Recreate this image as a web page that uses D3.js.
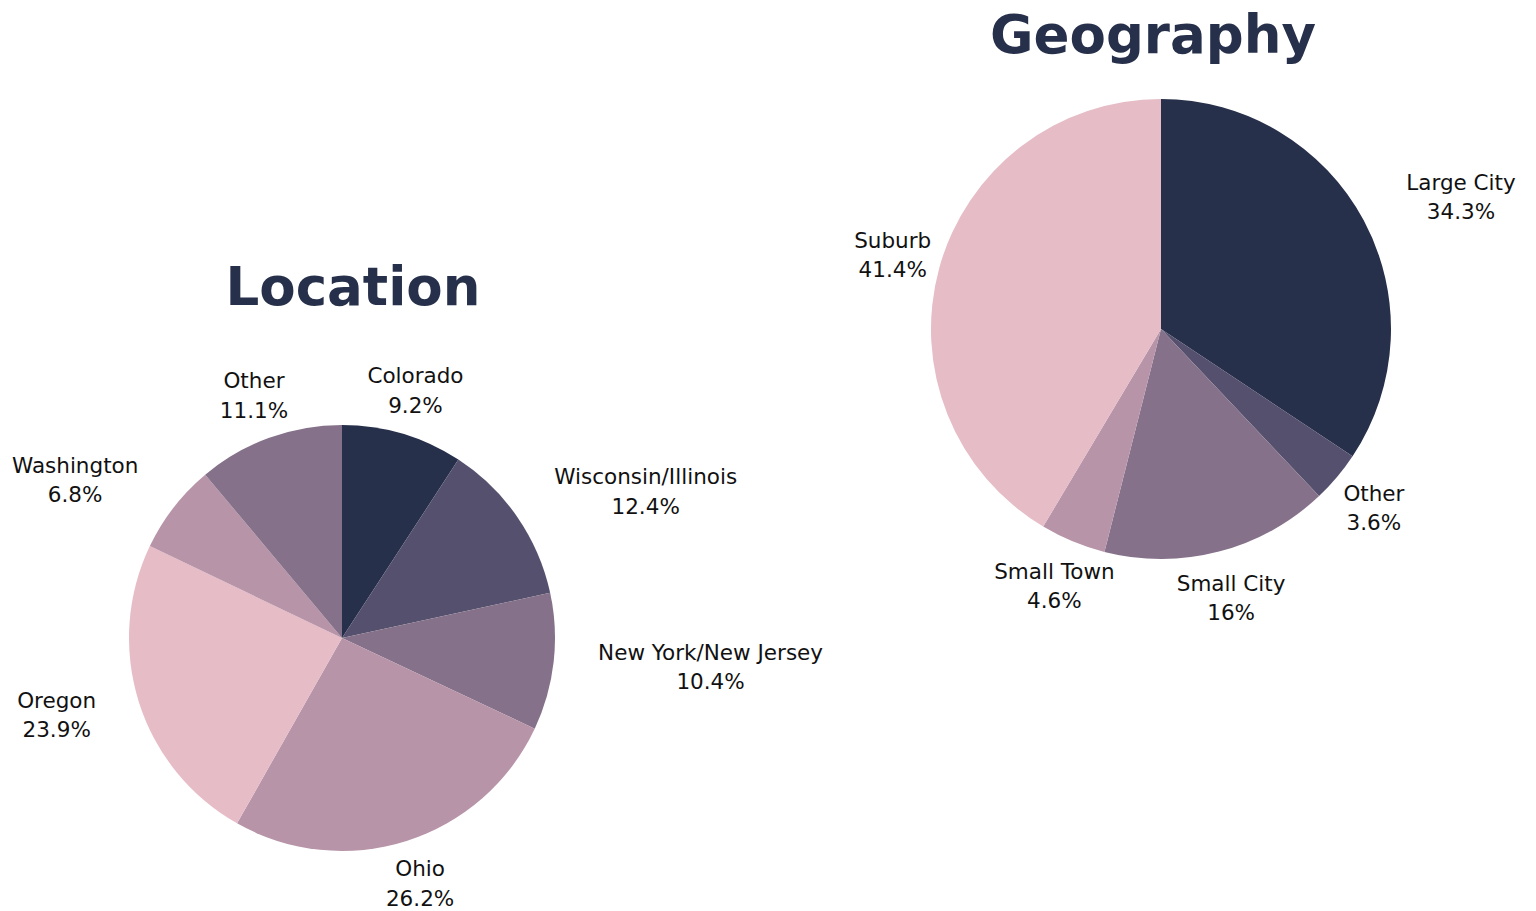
<!DOCTYPE html>
<html lang="en">
<head>
<meta charset="UTF-8">
<title>Location and Geography</title>
<script src="https://d3js.org/d3.v7.min.js"></script>
<style>
  body { margin: 0; background: #fff; }
  .title { font-family: "DejaVu Sans", sans-serif; font-weight: 700; fill: #27304a; }
  .label { font-family: "DejaVu Sans", sans-serif; font-size: 21.5px; fill: #111; }
</style>
</head>
<body>
<svg id="chart" width="1536" height="911"></svg>
<script>
// Location
const locationNames = ["Colorado", "Wisconsin/Illinois", "New York/New Jersey", "Ohio", "Oregon", "Washington", "Other"];
const locationValues = [9.2, 12.4, 10.4, 26.2, 23.9, 6.8, 11.1];
const locationColors = ["#27304a", "#54506d", "#857189", "#b794a8", "#e6bcc6", "#b794a8", "#857189"];

// Geography
const geoNames = ["Large City", "Other", "Small City", "Small Town", "Suburb"];
const geoValues = [34.3, 3.6, 16, 4.6, 41.4];
const geoColors = ["#27304a", "#54506d", "#857189", "#b794a8", "#e6bcc6"];

const svg = d3.select("#chart");

function drawPie(opts) {
    const { names, values, colors, cx, cy, r, title, tx, ty } = opts;
    const g = svg.append("g").attr("transform", `translate(${cx},${cy})`);

    const pie = d3.pie().sort(null).value(d => d)(values);
    const arc = d3.arc().innerRadius(0).outerRadius(r);

    g.selectAll("path")
        .data(pie)
        .enter().append("path")
        .attr("d", arc)
        .attr("fill", (d, i) => colors[i]);

    // labels: centred on a point outside the pie, pushed sideways if they would touch it
    const lr = r * 1.21;
    const hh = 28;
    pie.forEach((d, i) => {
        const a = (d.startAngle + d.endAngle) / 2;
        const px = lr * Math.sin(a), py = -lr * Math.cos(a);
        const lab = g.append("g").attr("class", "label");
        const t1 = lab.append("text").attr("text-anchor", "middle").attr("y", -7.5).text(names[i]);
        const t2 = lab.append("text").attr("text-anchor", "middle").attr("y", 22).text(values[i] + "%");
        const hw = Math.max(t1.node().getComputedTextLength(), t2.node().getComputedTextLength()) / 2;

        let x = px;
        const nx = Math.max(px - hw, Math.min(0, px + hw));
        const ny = Math.max(py - hh, Math.min(0, py + hh));
        if (Math.hypot(nx, ny) < r + 2) {
            x = px > 0 ? px + hw : px - hw;
        }
        lab.attr("transform", `translate(${x},${py})`);
    });

    svg.append("text")
        .attr("class", "title")
        .attr("x", tx).attr("y", ty)
        .attr("text-anchor", "middle")
        .attr("font-size", 53)
        .text(title);
}

drawPie({ names: locationNames, values: locationValues, colors: locationColors,
          cx: 342, cy: 638, r: 213, title: "Location", tx: 353, ty: 305 });
drawPie({ names: geoNames, values: geoValues, colors: geoColors,
          cx: 1161, cy: 329, r: 230, title: "Geography", tx: 1153, ty: 53 });
</script>
</body>
</html>
